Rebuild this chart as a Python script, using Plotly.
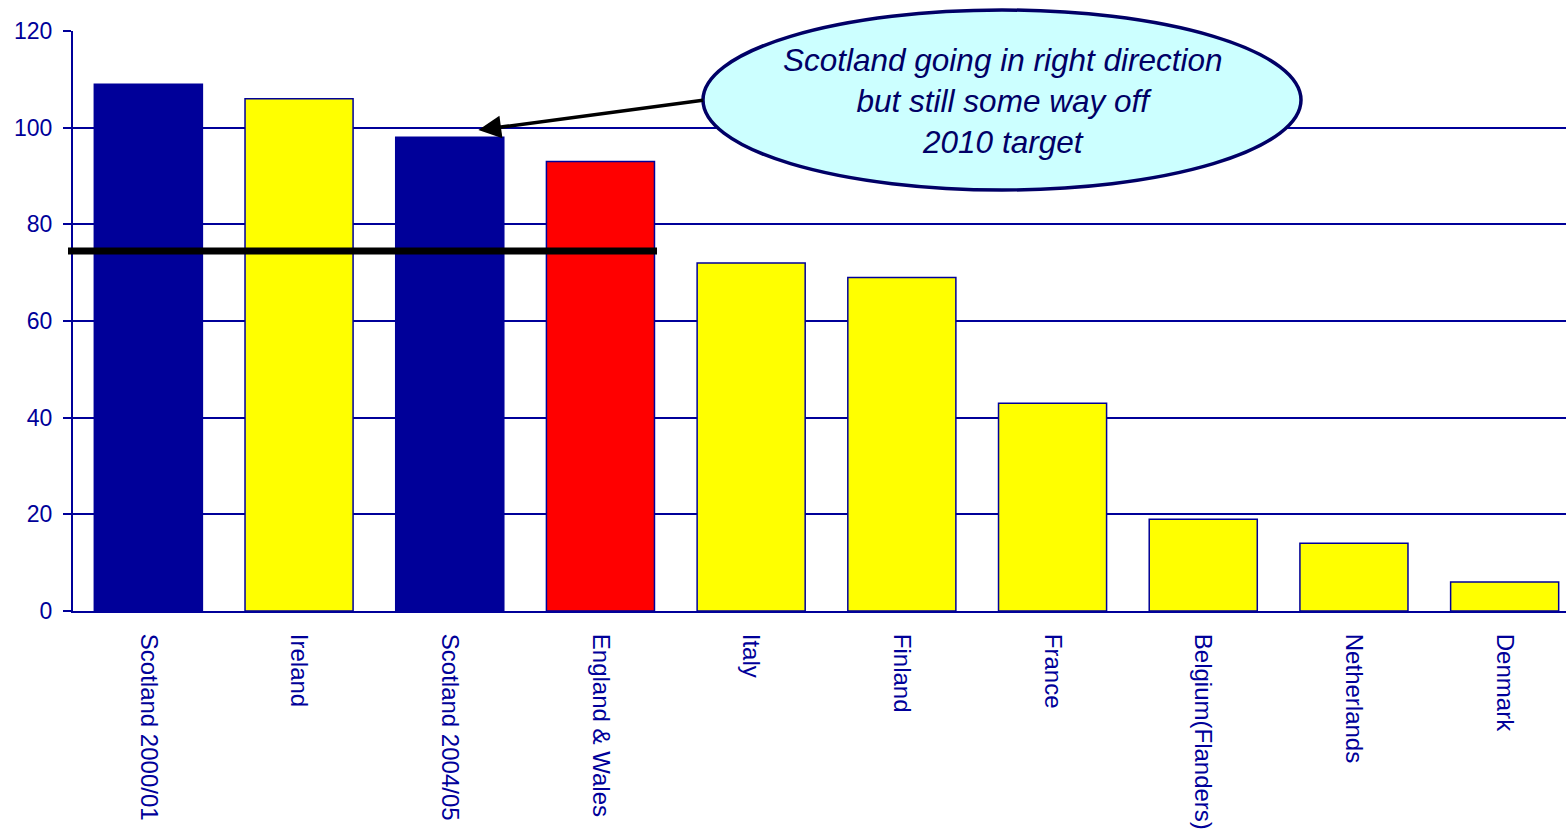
import plotly.graph_objects as go

categories = ["Scotland 2000/01", "Ireland", "Scotland 2004/05", "England & Wales",
              "Italy", "Finland", "France", "Belgium(Flanders)", "Netherlands", "Denmark"]
values = [109, 106, 98, 93, 72, 69, 43, 19, 14, 6]
bar_colors = ["#000099", "#FFFF00", "#000099", "#FF0000", "#FFFF00",
              "#FFFF00", "#FFFF00", "#FFFF00", "#FFFF00", "#FFFF00"]
y_ticks = [0, 20, 40, 60, 80, 100, 120]
TARGET = 74.5
Y_MAX = 120
callout_text = "Scotland going in right direction<br>but still some way off<br>2010 target"

NAVY = "#000099"
FONT = "Liberation Sans, Arial, sans-serif"

fig = go.Figure()
fig.add_trace(go.Bar(
    x=categories, y=values,
    marker=dict(color=bar_colors, line=dict(color=NAVY, width=1.5)),
    hoverinfo="x+y",
))

# the reference plot area runs slightly past the right edge of the window
W, H = 1580, 832
ml, mr, mt, mb = 73, 0, 31, 221
pw, ph = W - ml - mr, H - mt - mb

def px_x(p):
    return (p - ml) / pw

def px_y(p):
    return (H - mb - p) / ph

# target line
fig.add_shape(type="line", xref="paper", yref="paper",
              x0=px_x(68), x1=px_x(657), y0=TARGET / Y_MAX, y1=TARGET / Y_MAX,
              line=dict(color="black", width=7), layer="above")

# callout ellipse
fig.add_shape(type="circle", xref="paper", yref="paper",
              x0=px_x(703), x1=px_x(1301), y0=px_y(190), y1=px_y(10),
              fillcolor="#CCFFFF", line=dict(color="#000066", width=3.5), layer="above")

# arrow to Scotland 2004/05
fig.add_annotation(x=2.19, y=99.5, xref="x", yref="y", text="",
                   showarrow=True, axref="pixel", ayref="pixel", ax=226, ay=-30,
                   arrowhead=2, arrowsize=1.3, arrowwidth=3.5, arrowcolor="black",
                   standoff=0)

fig.add_annotation(x=px_x(1003), y=px_y(101), xref="paper", yref="paper",
                   text=callout_text, showarrow=False,
                   font=dict(family=FONT, size=31.5, color="#000066", style="italic"),
                   xanchor="center", yanchor="middle", align="center")

fig.update_layout(
    width=W, height=H,
    margin=dict(l=ml, r=mr, t=mt, b=mb),
    paper_bgcolor="white", plot_bgcolor="white",
    bargap=0.283, showlegend=False,
    font=dict(family=FONT, color=NAVY),
)
fig.update_xaxes(tickangle=90, tickfont=dict(size=24, color=NAVY, family=FONT),
                 showline=True, linecolor=NAVY, linewidth=2, ticks="",
                 showgrid=False, ticklabelstandoff=16)
fig.update_yaxes(range=[0, Y_MAX], tickvals=y_ticks, tickfont=dict(size=23, color=NAVY, family=FONT),
                 showline=True, linecolor=NAVY, linewidth=2, ticks="outside", ticklen=8,
                 tickcolor=NAVY, tickwidth=2, showgrid=True, gridcolor=NAVY, gridwidth=1.5,
                 zeroline=False, ticklabelstandoff=6)

fig.write_html("out.html", config={"displayModeBar": False},
               post_script="document.body.style.margin='0';document.body.style.overflow='hidden';")
